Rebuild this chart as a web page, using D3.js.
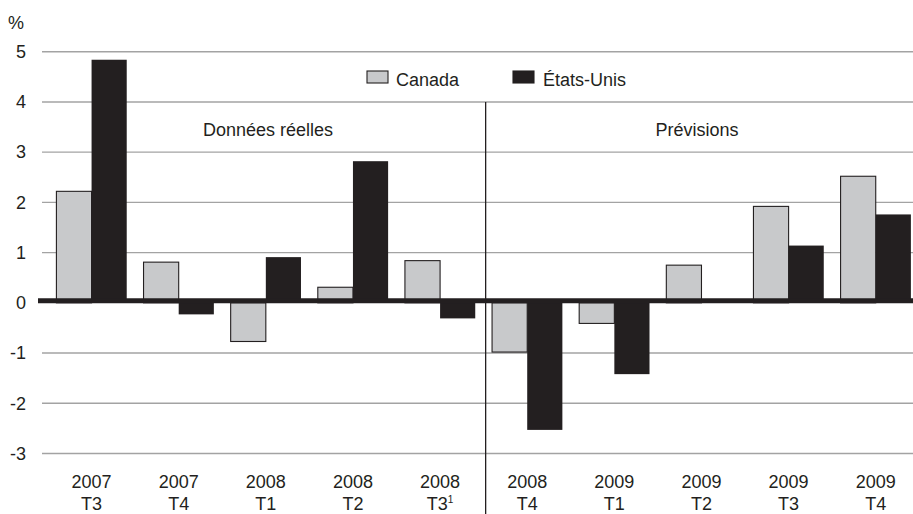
<!DOCTYPE html>
<html>
<head>
<meta charset="utf-8">
<script src="https://cdn.jsdelivr.net/npm/d3@7"></script>
<style>
  html, body { margin: 0; padding: 0; background: #fff; }
  svg { display: block; }
  text { font-family: "Liberation Sans", Arial, Helvetica, sans-serif; fill: #231f20; }
</style>
</head>
<body>
<svg id="chart" width="913" height="514"></svg>
<script>
const years    = ["2007","2007","2008","2008","2008","2008","2009","2009","2009","2009"];
const quarters = ["T3","T4","T1","T2","T3","T4","T1","T2","T3","T4"];
const footnote = ["","","","","1","","","","",""];
const canada   = [2.22, 0.81, -0.77, 0.31, 0.84, -0.98, -0.41, 0.75, 1.92, 2.52];
const usa      = [4.84, -0.23, 0.91, 2.82, -0.31, -2.53, -1.42, 0.0, 1.14, 1.76];
const seriesNames = ["Canada", "États-Unis"];
const yTicks = [-3, -2, -1, 0, 1, 2, 3, 4, 5];
const sectionLabels = ["Données réelles", "Prévisions"];

const colors = { "Canada": "#c8c9cb", "États-Unis": "#231f20" };
const ink = "#231f20";

const svg = d3.select("#chart");
const W = 913, H = 514;

const cats = years.map((y, i) => y + " " + quarters[i] + footnote[i]);
const data = cats.map((c, i) => ({ cat: c, values: [
  { key: "Canada", value: canada[i] },
  { key: "États-Unis", value: usa[i] }
]}));

const x0 = d3.scaleBand().domain(cats).range([48, 919.3]).paddingInner(0.193).paddingOuter(0.0965);
const x1 = d3.scaleBand().domain(seriesNames).range([0, x0.bandwidth()]);
const y = d3.scaleLinear().domain([-3, 5]).range([453.5, 51.7]);

// gridlines
svg.append("g").selectAll("line").data(yTicks.filter(t => t !== 0)).join("line")
  .attr("x1", 42).attr("x2", W)
  .attr("y1", d => y(d)).attr("y2", d => y(d))
  .attr("stroke", "#a3a3a3").attr("stroke-width", 1.4);

// y tick labels
svg.append("g").selectAll("text").data(yTicks).join("text")
  .attr("x", 26).attr("y", d => y(d)).attr("dy", "0.35em")
  .attr("text-anchor", "end").attr("font-size", 18)
  .text(d => d);

svg.append("text").attr("x", 8).attr("y", 29).attr("font-size", 18).text("%");

// bars
const groups = svg.append("g").selectAll("g").data(data).join("g")
  .attr("transform", d => `translate(${x0(d.cat)},0)`);
groups.selectAll("rect").data(d => d.values).join("rect")
  .attr("x", d => x1(d.key))
  .attr("width", x1.bandwidth())
  .attr("y", d => y(Math.max(0, d.value)))
  .attr("height", d => Math.abs(y(d.value) - y(0)))
  .attr("fill", d => colors[d.key])
  .attr("stroke", d => d.key === "Canada" ? ink : "none")
  .attr("stroke-width", 1.1);

// zero line
svg.append("line")
  .attr("x1", 38).attr("x2", W)
  .attr("y1", y(0) - 2).attr("y2", y(0) - 2)
  .attr("stroke", ink).attr("stroke-width", 5);

// divider between actual and forecast
const divX = (x0(cats[4]) + x0.bandwidth() + x0(cats[5])) / 2 + 2;
svg.append("line")
  .attr("x1", divX).attr("x2", divX)
  .attr("y1", y(4)).attr("y2", H)
  .attr("stroke", ink).attr("stroke-width", 1.3);

// section labels
svg.append("text").attr("x", 268).attr("y", 136).attr("text-anchor", "middle")
  .attr("font-size", 18).text(sectionLabels[0]);
svg.append("text").attr("x", 697).attr("y", 136).attr("text-anchor", "middle")
  .attr("font-size", 18).text(sectionLabels[1]);

// x labels
const xl = svg.append("g").selectAll("g").data(cats).join("g")
  .attr("transform", c => `translate(${x0(c) + x0.bandwidth() / 2},0)`);
xl.append("text").attr("y", 488).attr("text-anchor", "middle").attr("font-size", 18)
  .text((c, i) => years[i]);
const q = xl.append("text").attr("y", 510).attr("text-anchor", "middle").attr("font-size", 18);
q.append("tspan").text((c, i) => quarters[i]);
q.append("tspan").attr("font-size", 10).attr("dy", -7).text((c, i) => footnote[i]);

// legend
const legendItems = [
  { key: "Canada", bx: 367, tx: 396 },
  { key: "États-Unis", bx: 513, tx: 543 }
];
const lg = svg.append("g").selectAll("g").data(legendItems).join("g");
lg.append("rect").attr("x", d => d.bx).attr("y", 71).attr("width", 21).attr("height", 12)
  .attr("fill", d => colors[d.key]).attr("stroke", ink).attr("stroke-width", 1.1);
lg.append("text").attr("x", d => d.tx).attr("y", 85.5).attr("font-size", 18).text(d => d.key);
</script>
</body>
</html>
